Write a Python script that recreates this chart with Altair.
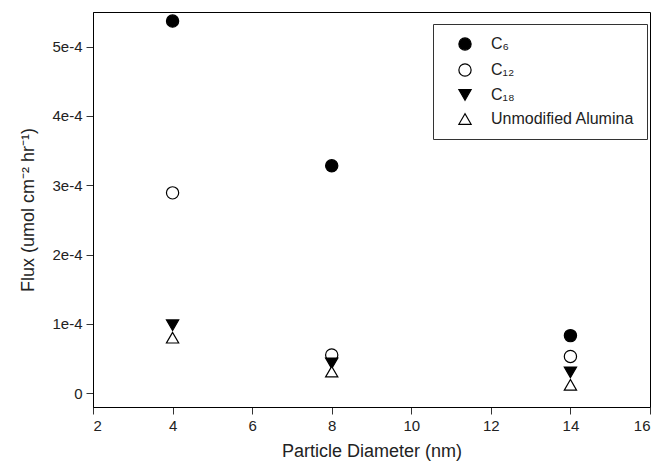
import altair as alt
import pandas as pd

series = ["C₆", "C₁₂", "C₁₈", "Unmodified Alumina"]
diameters = [4, 8, 14]
c6 = [5.37e-4, 3.28e-4, 0.83e-4]
c12 = [2.89e-4, 0.55e-4, 0.53e-4]
c18 = [0.98e-4, 0.43e-4, 0.30e-4]
unmod = [0.80e-4, 0.31e-4, 0.12e-4]

rows = []
for name, vals in zip(series, [c6, c12, c18, unmod]):
    for d, v in zip(diameters, vals):
        rows.append({"Series": name, "Diameter": d, "Flux": v})
df = pd.DataFrame(rows)

FONT = "Liberation Sans"

def make_legend():
    return alt.Legend(title=None, orient="none", legendX=340, legendY=12,
                      strokeColor="#333", padding=12, rowPadding=8,
                      labelFontSize=16, labelFont=FONT, labelColor="#222",
                      symbolSize=150, symbolStrokeWidth=1.2, symbolOffset=12,
                      labelOffset=18, fillColor="white",
                      symbolStrokeColor="black")

points = alt.Chart(df).mark_point(size=150, strokeWidth=1.2, opacity=1).encode(
    x=alt.X("Diameter:Q",
            scale=alt.Scale(domain=[2, 16], nice=False, zero=False),
            axis=alt.Axis(values=[2, 4, 6, 8, 10, 12, 14, 16], title="Particle Diameter (nm)",
                          grid=False, tickSize=7, labelPadding=4, titlePadding=9)),
    y=alt.Y("Flux:Q",
            scale=alt.Scale(domain=[-2e-5, 5.5e-4], nice=False, zero=False),
            axis=alt.Axis(values=[0, 1e-4, 2e-4, 3e-4, 4e-4, 5e-4],
                          labelExpr="datum.value == 0 ? '0' : format(datum.value, '.0e')",
                          title="Flux (umol cm⁻² hr⁻¹)",
                          grid=False, tickSize=7, labelPadding=4, titlePadding=14)),
    shape=alt.Shape("Series:N",
                    scale=alt.Scale(domain=series,
                                    range=["circle", "circle", "triangle-down", "triangle-up"]),
                    legend=make_legend()),
    fill=alt.Fill("Series:N",
                  scale=alt.Scale(domain=series, range=["black", "white", "black", "white"]),
                  legend=make_legend()),
    stroke=alt.Stroke("Series:N",
                      scale=alt.Scale(domain=series, range=["black", "black", "black", "black"]),
                      legend=make_legend()),
)

chart = points.properties(
    width=557, height=395,
    autosize=alt.AutoSizeParams(type="none"),
    padding={"left": 85, "top": 4, "right": 8, "bottom": 58},
).configure_view(
    stroke="black", strokeWidth=1
).configure_axis(
    domainColor="black", tickColor="#333", labelColor="#222", titleColor="#222",
    labelFont=FONT, titleFont=FONT, labelFontSize=15, titleFontSize=18,
    titleFontWeight="normal",
)

chart.save("out.html", embed_options={"renderer": "svg", "actions": False})
